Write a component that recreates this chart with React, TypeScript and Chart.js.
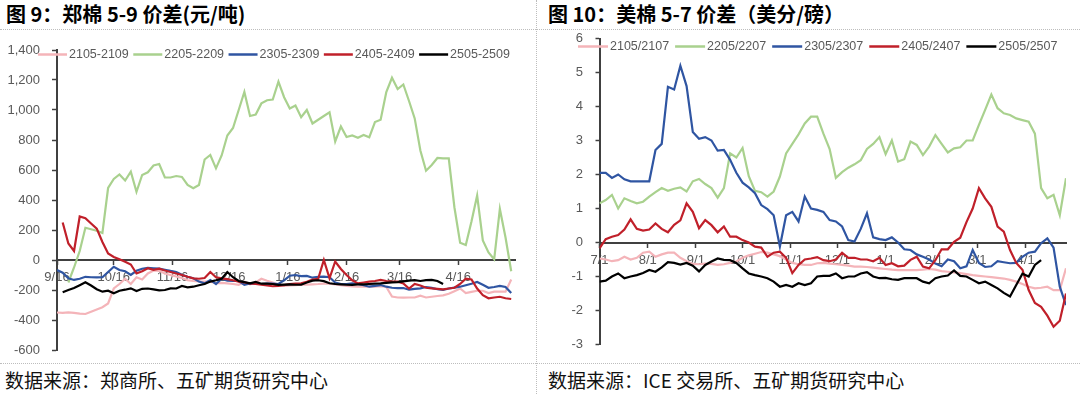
import React, { useEffect, useRef } from "react";
import { Chart, registerables } from "chart.js";

Chart.register(...registerables);

// ---------- Left chart: 郑棉 5-9 价差 (days from 9/16, one value every 3 days) ----------
const ZC_STEP = 3;
const ZC_MAX_DAY = 242;
const ZC_TICK_DAYS = [0, 30, 61, 91, 122, 153, 181, 212];
const ZC_TICK_LABELS = ["9/16", "10/16", "11/16", "12/16", "1/16", "2/16", "3/16", "4/16"];
const ZC_NAMES = ["2105-2109", "2205-2209", "2305-2309", "2405-2409", "2505-2509"];

const ZC_2105 = [
  -350, -352, -349, -352, -358, -360, -345, -330, -315, -290,
  -190, -160, -125, -160, -115, -130, -90, -70, -72, -90,
  -100, -110, -120, -135, -140, -143, -144, -144, -155, -152,
  -156, -160, -165, -145, -162, -150, -125, -138, -150, -165,
  -172, -170, -167, -165, -164, -162, -160, -157, -158, -162,
  -168, -172, -176, -178, -178, -176, -178, -175, -180, -244,
  -250, -251, -250, -250, -238, -250, -245, -240, -236, -225,
  -208, -190, -220, -212, -205, -205, -220, -211, -211, -211,
  -130,
];
const ZC_2205 = [
  null, null, -150, -50, 60, 215, 205, 195, 180, 480,
  540, 570, 530, 589, 455, 567, 585, 630, 640, 550,
  550, 560, 554, 500, 478, 500, 670, 700, 611, 697,
  830, 880, 1000, 1120, 960, 970, 1044, 1065, 1070, 1189,
  1085, 1010, 1030, 952, 1000, 910, 935, 960, 985, 790,
  890, 820, 830, 815, 833, 818, 920, 935, 1120, 1215,
  1140, 1170, 1060, 944, 730, 595, 633, 680, 678, 678,
  350, 115, 100, 256, 430, 130, 50, 5, 340, 150,
  -75,
];
const ZC_2305 = [
  -67, -85, -122, -133, -125, -112, -115, -116, -115, -80,
  -45, -67, -75, -100, -72, -58, -52, -55, -58, -65,
  -73, -80, -98, -112, -122, -144, -156, -133, -160, -125,
  -138, -140, -140, -165, -156, -158, -160, -158, -158, -160,
  -135, -105, -100, -108, -106, -118, -112, -111, -115, -150,
  -160, -160, -156, -160, -168, -178, -172, -167, -178, -185,
  -188, -187, -198, -192, -189, -180, -186, -195, -200, -190,
  -184, -178, -168, -158, -146, -165, -185, -180, -172, -180,
  -220,
];
const ZC_2405 = [
  null, 250, 110, 60, 290, 278, 243, 209, 120, 44,
  20, 5, -11, -30, -90, -75, -55, -65, -58, -70,
  -80, -90, -100, -112, -122, -125, -120, -80, -115, -122,
  -128, -135, -145, -150, -156, -160, -165, -170, -175, -172,
  -168, -160, -158, -156, -145, -130, -125, 0, -122, -10,
  -60, -100, -135, -156, -150, -144, -140, -133, -140, -144,
  -144, -156, -190, -160, -170, -185, -189, -192, -196, -190,
  -185, -160, -125, -130, -190, -235, -255, -250, -245, -255,
  -260,
];
const ZC_2505 = [
  null, -215, -200, -187, -168, -148, -170, -195, -211, -205,
  -222, -205, -198, -189, -207, -192, -190, -196, -203, -200,
  -189, -190, -173, -182, -178, -168, -160, -144, -135, -125,
  -80, -115, -140, -148, -156, -146, -158, -158, -160, -166,
  -164, -162, -165, -165, -150, -138, -135, -141, -155, -160,
  -162, -165, -166, -163, -162, -160, -158, -156, -152, -149,
  -148, -142, -138, -134, -140, -134, -133, -140, -160, null,
  null, null, null, null, null, null, null, null, null, null,
  null,
];
const ZC_Y_TICKS = { min: -600, max: 1400, step: 200 };

// ---------- Right chart: 美棉 5-7 价差 (days from 7/1, one value every 4 days) ----------
const ICE_STEP = 4;
const ICE_MAX_DAY = 300;
const ICE_TICK_DAYS = [0, 31, 62, 92, 123, 153, 184, 215, 243, 274];
const ICE_TICK_LABELS = ["7/1", "8/1", "9/1", "10/1", "11/1", "12/1", "1/1", "2/1", "3/1", "4/1"];
const ICE_NAMES = ["2105/2107", "2205/2207", "2305/2307", "2405/2407", "2505/2507"];

const ICE_2107 = [
  -0.47, -0.5, -0.55, -0.52, -0.42, -0.5, -0.45, -0.3, -0.27, -0.42,
  -0.35, -0.3, -0.3, -0.45, -0.55, -0.63, -0.64, -0.62, -0.63, -0.66,
  -0.64, -0.6, -0.56, -0.45, -0.38, -0.33, -0.28, -0.3, -0.35, -0.4,
  -0.5, -0.6, -0.64, -0.66, -0.66, -0.61, -0.6, -0.62, -0.64, -0.66,
  -0.68, -0.71, -0.71, -0.72, -0.74, -0.76, -0.78, -0.8, -0.81, -0.81,
  -0.81, -0.81, -0.8, -0.78, -0.8, -0.84, -0.86, -0.88, -0.9, -0.93,
  -0.96, -0.98, -1.0, -1.02, -1.04, -1.06, -1.1, -1.15, -1.22, -1.3,
  -1.35, -1.33, -1.3, -1.4, -1.4, -0.76,
];
const ICE_2207 = [
  1.15, 1.25, 1.4, 1.0, 1.3, 1.22, 1.15, 1.2, 1.35, 1.48,
  1.6, 1.52, 1.58, 1.62, 1.5, 1.8, 1.87, 1.72, 1.6, 1.32,
  1.6, 2.62, 2.5, 2.78, 1.95, 1.52, 1.48, 1.35, 1.5, 1.94,
  2.62, 2.9, 3.18, 3.5, 3.7, 3.7, 3.2, 2.75, 1.9, 2.07,
  2.2, 2.3, 2.42, 2.75, 2.9, 3.1, 2.6, 3.0, 2.38, 2.45,
  2.97, 2.87, 2.57, 2.82, 3.16, 2.9, 2.65, 2.77, 2.8, 3.0,
  3.0, 3.46, 3.9, 4.35, 3.95, 3.8, 3.75, 3.65, 3.6, 3.55,
  3.2, 1.6, 1.3, 1.4, 0.8, 1.89,
];
const ICE_2307 = [
  2.05, 2.05, 1.9, 2.0, 1.86, 1.8, 1.8, 1.8, 1.8, 2.72,
  2.9, 4.58, 4.5, 5.2, 4.6, 3.25, 3.05, 3.1, 3.0, 2.7,
  2.72, 2.43, 2.05, 1.76, 1.62, 1.45, 1.1, 0.98, 0.8, -0.12,
  0.8, 0.9, 0.62, 1.35, 1.0, 0.96, 0.9, 0.66, 0.62, 0.47,
  0.07, 0.03, 0.4, 0.86, 0.15, 0.1, 0.07, 0.15, 0.0, -0.2,
  -0.22, -0.35, -0.42, -0.5, -0.62, -0.7, -0.5, -0.55, -0.76, -0.7,
  -0.22, -0.6, -0.72, -0.7, -0.55, -0.58, -0.61, -0.6, -0.42, -0.3,
  -0.27, -0.02, 0.12, -0.15, -1.3, -1.84,
];
const ICE_2407 = [
  -0.17, 0.1, 0.17, 0.22, 0.38, 0.68, 0.4, 0.35, 0.38, 0.56,
  0.4, 0.3, 0.52, 0.65, 1.15, 0.9, 0.42, 0.66, 0.51, 0.3,
  0.47, 0.17, 0.17, 0.07, 0.0, -0.12, -0.15, -0.42, -0.3, -0.27,
  -0.45, -0.9, -0.66, -0.5, -0.47, -0.43, -0.52, -0.55, -0.5, -0.3,
  -0.45, -0.45, -0.5, -0.5, -0.55, -0.45, -0.66, -0.61, -0.7, -0.68,
  -0.51, -0.42, -0.71, -0.76, -0.52, -0.2, -0.2, 0.02, 0.14, 0.6,
  1.0, 1.6, 1.3, 1.05, 0.47, 0.32, -0.22, -0.6, -0.8, -1.4,
  -1.78, -1.89, -2.15, -2.48, -2.3, -1.5,
];
const ICE_2507 = [
  -1.15, -1.12, -1.0, -0.91, -1.05, -1.0, -0.96, -0.9, -0.81, -0.86,
  -0.73, -0.58, -0.6, -0.65, -0.6, -0.68, -0.85, -0.66, -0.56, -0.47,
  -0.51, -0.52, -0.6, -0.76, -0.91, -0.96, -1.0, -1.05, -1.15, -1.3,
  -1.25, -1.3, -1.2, -1.25, -1.2, -1.0, -0.98, -0.98, -0.91, -1.05,
  -1.0, -1.0, -0.91, -0.87, -1.0, -1.05, -1.04, -1.08, -1.1, -1.05,
  -1.05, -1.05, -1.15, -1.2, -1.05, -1.0, -0.97, -0.82, -0.98, -1.0,
  -1.1, -1.2, -1.15, -1.25, -1.35, -1.48, -1.59, -1.25, -0.92, -1.0,
  -0.66, -0.52, null, null, null, null,
];
const ICE_Y_TICKS = { min: -3, max: 6, step: 1 };

const COLORS = ["#F4B4B9", "#A9D18E", "#2F55A2", "#C0202A", "#000000"];

const TICK_FONT = "'Liberation Sans', Arial, sans-serif";
const AXIS_COLOR = "#404040";
const TEXT_GRAY = "#595959";

type Props = {
  left: number;
  top: number;
  width: number;
  height: number;
  names: string[];
  values: (number | null)[][];
  step: number;
  maxDay: number;
  tickDays: number[];
  tickLabels: string[];
  yTicks: { min: number; max: number; step: number };
  yAxisWidth: number;
  yTickPad: number;
  yTickLen: number;
  pad: { left: number; right: number; top: number; bottom: number };
  legendX: number;
  legendY: number;
  legendLine: number;
  legendAfter: number;
  fmt: (v: number) => string;
};

function LineChart(p: Props) {
  const ref = useRef<HTMLCanvasElement | null>(null);
  useEffect(() => {
    if (!ref.current) return;
    const datasets = p.values.map((arr, k) => ({
      label: p.names[k],
      data: arr.map((v, i) => ({ x: i * p.step, y: v })),
      borderColor: COLORS[k],
      backgroundColor: COLORS[k],
      borderWidth: 2.2,
      pointRadius: 0,
      pointHoverRadius: 0,
      tension: 0,
      fill: false,
      spanGaps: false,
      order: p.values.length - 1 - k,
    }));
    const legendPlugin = {
      id: "manualLegend",
      afterDraw(chart: any) {
        const ctx = chart.ctx as CanvasRenderingContext2D;
        ctx.save();
        ctx.font = `12.5px ${TICK_FONT}`;
        ctx.textBaseline = "middle";
        ctx.textAlign = "left";
        let cx = p.legendX;
        const y = p.legendY;
        p.names.forEach((name, k) => {
          ctx.strokeStyle = COLORS[k];
          ctx.lineWidth = 2.5;
          ctx.beginPath();
          ctx.moveTo(cx, y);
          ctx.lineTo(cx + p.legendLine, y);
          ctx.stroke();
          cx += p.legendLine + 2;
          ctx.fillStyle = TEXT_GRAY;
          ctx.fillText(name, cx, y);
          cx += ctx.measureText(name).width + p.legendAfter;
        });
        ctx.restore();
      },
    };
    const chart = new Chart(ref.current, {
      type: "line",
      data: { datasets },
      plugins: [legendPlugin],
      options: {
        responsive: false,
        animation: false,
        devicePixelRatio: 1,
        layout: { padding: p.pad },
        plugins: { legend: { display: false }, tooltip: { enabled: false } },
        events: [],
        scales: {
          x: {
            type: "linear",
            min: 0,
            max: p.maxDay,
            position: { y: 0 } as any,
            afterFit: (s: any) => {
              s.height = 0;
            },
            afterBuildTicks: (s: any) => {
              s.ticks = p.tickDays.map((v) => ({ value: v }));
            },
            ticks: {
              autoSkip: false,
              maxRotation: 0,
              padding: 6,
              color: TEXT_GRAY,
              font: { family: TICK_FONT, size: 13 },
              callback: (v: any) => {
                const k = p.tickDays.indexOf(Number(v));
                return k >= 0 ? p.tickLabels[k] : "";
              },
            },
            grid: {
              display: true,
              drawOnChartArea: false,
              drawTicks: true,
              tickLength: 4,
              tickColor: AXIS_COLOR,
              tickWidth: 1.5,
            },
            border: { display: true, color: AXIS_COLOR, width: 2 },
          },
          y: {
            type: "linear",
            min: p.yTicks.min,
            max: p.yTicks.max,
            afterFit: (s: any) => {
              s.width = p.yAxisWidth;
              s.paddingTop = 0;
              s.paddingBottom = 0;
            },
            ticks: {
              stepSize: p.yTicks.step,
              padding: p.yTickPad,
              color: TEXT_GRAY,
              font: { family: TICK_FONT, size: 13 },
              callback: (v: any) => p.fmt(Number(v)),
            },
            grid: {
              display: true,
              drawOnChartArea: false,
              drawTicks: true,
              tickLength: p.yTickLen,
              tickColor: AXIS_COLOR,
              tickWidth: 1.5,
            },
            border: { display: true, color: AXIS_COLOR, width: 2 },
          },
        },
      } as any,
    });
    return () => chart.destroy();
  }, []);
  return (
    <canvas
      ref={ref}
      width={p.width}
      height={p.height}
      style={{ position: "absolute", left: p.left, top: p.top, width: p.width, height: p.height }}
    />
  );
}

const CJK = "'Noto Sans CJK SC', 'Noto Sans', sans-serif";

export default function App() {
  const dotted = "1px dotted #bdbdbd";
  return (
    <div
      style={{
        position: "absolute",
        left: 0,
        top: 0,
        width: 1080,
        height: 394,
        background: "#ffffff",
        overflow: "hidden",
        fontFamily: CJK,
      }}
    >
      <div style={{ position: "absolute", left: 6, top: 0, fontSize: 20, fontWeight: 700, lineHeight: "27px", color: "#000", whiteSpace: "nowrap" }}>
        图 9：郑棉 5-9 价差(元/吨)
      </div>
      <div style={{ position: "absolute", left: 548, top: 0, fontSize: 20, fontWeight: 700, lineHeight: "27px", color: "#000", whiteSpace: "nowrap" }}>
        图 10：美棉 5-7 价差（美分/磅）
      </div>
      <div style={{ position: "absolute", left: 0, top: 29, width: 1080, borderTop: dotted }} />
      <div style={{ position: "absolute", left: 0, top: 363, width: 1080, borderTop: dotted }} />
      <div style={{ position: "absolute", left: 536, top: 0, height: 394, borderLeft: dotted }} />

      <LineChart
        left={0}
        top={40}
        width={530}
        height={320}
        names={ZC_NAMES}
        values={[ZC_2105, ZC_2205, ZC_2305, ZC_2405, ZC_2505]}
        step={ZC_STEP}
        maxDay={ZC_MAX_DAY}
        tickDays={ZC_TICK_DAYS}
        tickLabels={ZC_TICK_LABELS}
        yTicks={ZC_Y_TICKS}
        yAxisWidth={57}
        yTickPad={12}
        yTickLen={5}
        pad={{ left: 0, right: 15, top: 10, bottom: 10 }}
        legendX={38}
        legendY={14.5}
        legendLine={29}
        legendAfter={4.5}
        fmt={(v) => v.toLocaleString("en-US")}
      />
      <LineChart
        left={537}
        top={30}
        width={543}
        height={325}
        names={ICE_NAMES}
        values={[ICE_2107, ICE_2207, ICE_2307, ICE_2407, ICE_2507]}
        step={ICE_STEP}
        maxDay={ICE_MAX_DAY}
        tickDays={ICE_TICK_DAYS}
        tickLabels={ICE_TICK_LABELS}
        yTicks={ICE_Y_TICKS}
        yAxisWidth={62.5}
        yTickPad={12.5}
        yTickLen={4}
        pad={{ left: 0, right: 14, top: 8.5, bottom: 10.5 }}
        legendX={41}
        legendY={16.5}
        legendLine={30}
        legendAfter={6}
        fmt={(v) => String(v)}
      />

      <div style={{ position: "absolute", left: 5, top: 367, fontSize: 19, lineHeight: "26px", color: "#111", whiteSpace: "nowrap" }}>
        数据来源：郑商所、五矿期货研究中心
      </div>
      <div style={{ position: "absolute", left: 548, top: 367, fontSize: 19, lineHeight: "26px", color: "#111", whiteSpace: "nowrap" }}>
        数据来源：ICE 交易所、五矿期货研究中心
      </div>
    </div>
  );
}
